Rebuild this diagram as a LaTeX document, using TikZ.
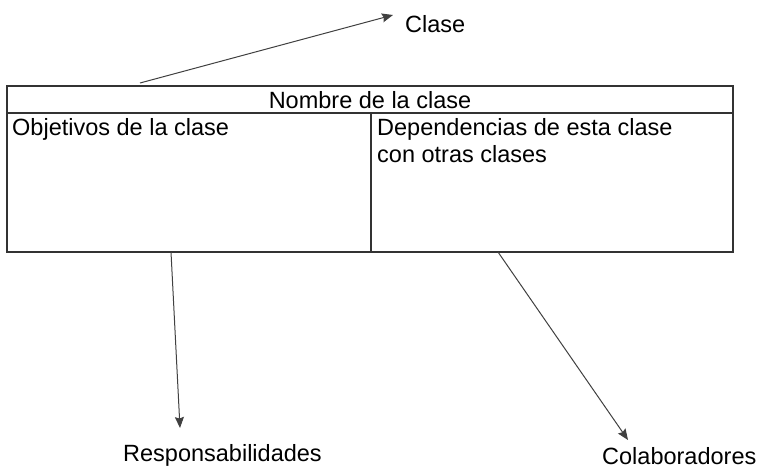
\documentclass[tikz,border=0pt]{standalone}
\usepackage{fontspec}
\setmainfont{Liberation Sans}
\usetikzlibrary{arrows.meta}
\begin{document}
\begin{tikzpicture}[x=1pt, y=-1pt, >={Stealth[length=11pt,width=9pt,inset=1.5pt]},
  cardline/.style={draw=black!80, line width=1.1pt},
  txt/.style={inner sep=0pt, font=\fontsize{23.5}{27}\selectfont},
  conn/.style={->, draw=black!75, line width=1pt}]
\useasboundingbox (0,0) rectangle (760,469);
% tarjeta CRC
\draw[cardline] (7,86) rectangle (733,252);
\draw[cardline] (7,113) -- (733,113);
\draw[cardline] (371,113) -- (371,252);
\node[txt, anchor=base] (nombre) at (370,108) {Nombre de la clase};
\node[txt, anchor=north west] (objetivos) at (12,118) {Objetivos de la clase};
\node[txt, anchor=north west, align=left] (dependencias) at (377,118) {Dependencias de esta clase\\con otras clases};
% etiquetas
\node[txt, anchor=base west] (clase) at (405,32) {Clase};
\node[txt, anchor=base west] (resp) at (123,461) {Responsabilidades};
\node[txt, anchor=base west] (colab) at (602,464) {Colaboradores};
% puntos de las flechas
\coordinate (topA) at (140,83);
\coordinate (botL) at (171,252);
\coordinate (botR) at (498,252);
\coordinate (claseTip) at (393,15);
\coordinate (respTip) at (180,428);
\coordinate (colabTip) at (628,440);
\draw[conn] (topA) -- (claseTip);
\draw[conn] (botL) -- (respTip);
\draw[conn] (botR) -- (colabTip);
\end{tikzpicture}
\end{document}
